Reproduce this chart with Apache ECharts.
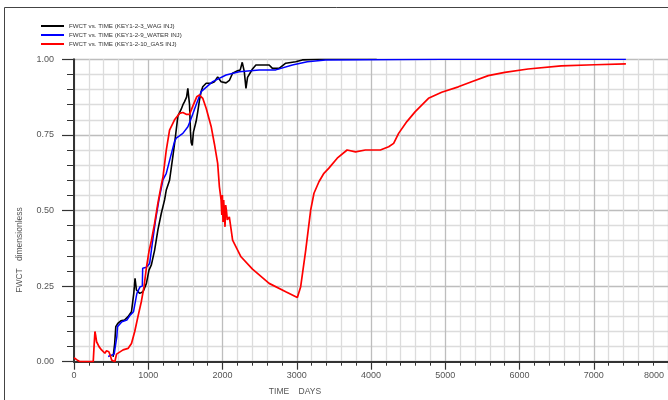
<!DOCTYPE html>
<html>
<head>
<meta charset="utf-8">
<script src="https://cdn.jsdelivr.net/npm/echarts@6/dist/echarts.min.js"></script>
<style>
html,body{margin:0;padding:0;background:#fff;}
#chart{width:668px;height:400px;}
</style>
</head>
<body>
<div id="chart"></div>
<script>
// ---- data ----
var seriesNames = [
  'FWCT vs. TIME (KEY1-2-3_WAG INJ)',
  'FWCT vs. TIME (KEY1-2-9_WATER INJ)',
  'FWCT vs. TIME (KEY1-2-10_GAS INJ)'
];
var xTickLabels = [0, 1000, 2000, 3000, 4000, 5000, 6000, 7000, 8000];
var yTickLabels = ['0.00', '0.25', '0.50', '0.75', '1.00'];

var wagDays = [527, 548, 563, 590, 630, 680, 728, 774, 805, 822, 841, 885, 929, 975, 1010, 1042, 1086, 1130, 1176, 1220, 1243, 1287, 1332, 1354, 1399, 1444, 1466, 1489, 1516, 1533, 1556, 1569, 1578, 1592, 1609, 1645, 1667, 1690, 1712, 1734, 1780, 1847, 1891, 1935, 1981, 2048, 2092, 2136, 2203, 2239, 2266, 2293, 2316, 2337, 2404, 2450, 2584, 2628, 2673, 2762, 2852, 2986, 3075, 3299, 4077];
var wagFwct = [0.016, 0.06, 0.116, 0.127, 0.135, 0.138, 0.149, 0.165, 0.226, 0.276, 0.237, 0.226, 0.231, 0.259, 0.303, 0.32, 0.369, 0.436, 0.491, 0.535, 0.568, 0.6, 0.68, 0.72, 0.812, 0.835, 0.849, 0.86, 0.875, 0.904, 0.85, 0.76, 0.725, 0.715, 0.76, 0.795, 0.827, 0.865, 0.893, 0.909, 0.921, 0.921, 0.926, 0.942, 0.926, 0.922, 0.93, 0.954, 0.962, 0.965, 0.99, 0.96, 0.904, 0.94, 0.968, 0.981, 0.981, 0.981, 0.97, 0.97, 0.987, 0.992, 0.998, 1.0, 1.0];

var waterDays = [460, 541, 560, 577, 586, 645, 712, 757, 801, 847, 891, 920, 925, 975, 1019, 1055, 1099, 1144, 1198, 1243, 1287, 1354, 1377, 1466, 1534, 1579, 1645, 1712, 1868, 2048, 2226, 2494, 2718, 2941, 3142, 3389, 4950, 7433];
var waterFwct = [0.017, 0.025, 0.028, 0.083, 0.116, 0.132, 0.138, 0.154, 0.165, 0.226, 0.248, 0.25, 0.309, 0.312, 0.325, 0.392, 0.469, 0.535, 0.601, 0.623, 0.665, 0.728, 0.739, 0.755, 0.777, 0.805, 0.85, 0.893, 0.926, 0.948, 0.959, 0.965, 0.965, 0.981, 0.992, 0.998, 1.0, 1.0];

var gasDays = [0, 13, 40, 80, 259, 270, 282, 293, 304, 339, 371, 393, 416, 438, 469, 490, 506, 550, 573, 661, 728, 774, 818, 862, 908, 943, 975, 1010, 1042, 1086, 1130, 1176, 1198, 1243, 1287, 1354, 1421, 1466, 1511, 1556, 1600, 1653, 1690, 1734, 1780, 1847, 1891, 1935, 1958, 1981, 1991, 1998, 2007, 2016, 2025, 2034, 2043, 2052, 2065, 2092, 2136, 2249, 2404, 2628, 2852, 3008, 3053, 3121, 3188, 3232, 3299, 3366, 3433, 3545, 3678, 3791, 3925, 4126, 4238, 4305, 4372, 4483, 4596, 4774, 4952, 5176, 5355, 5579, 5802, 6115, 6562, 7009, 7433];
var gasFwct = [0.013, 0.013, 0.006, 0.0, 0.0, 0.05, 0.10, 0.085, 0.066, 0.049, 0.039, 0.044, 0.028, 0.036, 0.033, 0.02, 0.006, 0.0, 0.025, 0.039, 0.044, 0.06, 0.10, 0.15, 0.2, 0.248, 0.31, 0.365, 0.40, 0.458, 0.524, 0.585, 0.61, 0.70, 0.766, 0.80, 0.821, 0.824, 0.818, 0.818, 0.845, 0.876, 0.882, 0.871, 0.838, 0.778, 0.72, 0.656, 0.579, 0.535, 0.485, 0.551, 0.462, 0.535, 0.485, 0.446, 0.518, 0.502, 0.469, 0.479, 0.402, 0.347, 0.306, 0.259, 0.231, 0.212, 0.248, 0.369, 0.502, 0.557, 0.595, 0.623, 0.640, 0.673, 0.700, 0.694, 0.700, 0.700, 0.711, 0.722, 0.755, 0.794, 0.827, 0.871, 0.891, 0.909, 0.926, 0.946, 0.957, 0.968, 0.978, 0.982, 0.985];

function zip(a, b) { return a.map(function (v, i) { return [v, b[i]]; }); }

var chart = echarts.init(document.getElementById('chart'), null, {renderer: 'canvas'});
var fontFam = '"Liberation Sans", Arial, sans-serif';
var option = {
  animation: false,
  backgroundColor: '#ffffff',
  color: ['#000000', '#0000ff', '#ff0000'],
  legend: {
    orient: 'vertical',
    left: 36,
    top: 18,
    itemWidth: 23,
    itemHeight: 2,
    itemGap: 3,
    icon: 'rect',
    textStyle: {fontSize: 6.2, color: '#333', fontFamily: fontFam},
    data: seriesNames
  },
  grid: {left: 74, top: 59.3, bottom: 38.3, right: -2.6, containLabel: false},
  xAxis: {
    type: 'value', min: 0, max: 8000, interval: 1000,
    axisLine: {show: true, onZero: false, lineStyle: {color: '#333', width: 2}},
    axisTick: {show: true, length: 8, lineStyle: {color: '#333', width: 1.2}},
    minorTick: {show: true, splitNumber: 5, length: 4, lineStyle: {color: '#333', width: 1}},
    splitLine: {show: true, lineStyle: {color: '#bdbdbd', width: 1.3}},
    minorSplitLine: {show: true, lineStyle: {color: '#dcdcdc', width: 1.3}},
    axisLabel: {
      margin: 9, fontSize: 9, color: '#555', fontFamily: fontFam,
      formatter: function (v) {
        var i = xTickLabels.indexOf(v);
        if (v === 8000) return '{r|' + xTickLabels[i] + '}';
        return String(xTickLabels[i]);
      },
      alignMaxLabel: 'right',
      rich: {r: {fontSize: 9, color: '#555', fontFamily: fontFam, padding: [0, 4, 0, 0]}}
    }
  },
  yAxis: {
    type: 'value', min: 0, max: 1, interval: 0.25,
    axisLine: {show: true, lineStyle: {color: '#333', width: 2}},
    axisTick: {show: true, length: 12, lineStyle: {color: '#333', width: 1.2}},
    minorTick: {show: true, splitNumber: 5, length: 7, lineStyle: {color: '#333', width: 1}},
    splitLine: {show: true, lineStyle: {color: '#bdbdbd', width: 1.3}},
    minorSplitLine: {show: true, lineStyle: {color: '#dcdcdc', width: 1.3}},
    axisLabel: {
      margin: 20, fontSize: 9, color: '#555', fontFamily: fontFam,
      formatter: function (v) { return yTickLabels[Math.round(v / 0.25)]; }
    }
  },
  graphic: [
    {type: 'line', shape: {x1: 4.5, y1: 7.5, x2: 4.5, y2: 400}, style: {stroke: '#444', lineWidth: 1}},
    {type: 'line', shape: {x1: 4.5, y1: 7.5, x2: 668, y2: 7.5}, style: {stroke: '#444', lineWidth: 1}},
    {type: 'text', x: 20, y: 250, rotation: Math.PI / 2,
      style: {text: 'FWCT   dimensionless', fill: '#555', font: '8.5px ' + fontFam, textAlign: 'center', textVerticalAlign: 'middle'}},
    {type: 'text', x: 295, y: 392,
      style: {text: 'TIME    DAYS', fill: '#555', font: '8.5px ' + fontFam, textAlign: 'center', textVerticalAlign: 'middle'}}
  ],
  series: [
    {name: seriesNames[0], type: 'line', data: zip(wagDays, wagFwct), showSymbol: false, symbol: 'none',
      lineStyle: {color: '#000000', width: 1.6}},
    {name: seriesNames[1], type: 'line', data: zip(waterDays, waterFwct), showSymbol: false, symbol: 'none',
      lineStyle: {color: '#0000ff', width: 1.5}},
    {name: seriesNames[2], type: 'line', data: zip(gasDays, gasFwct), showSymbol: false, symbol: 'none',
      lineStyle: {color: '#ff0000', width: 1.7}}
  ]
};
chart.setOption(option);
</script>
</body>
</html>
